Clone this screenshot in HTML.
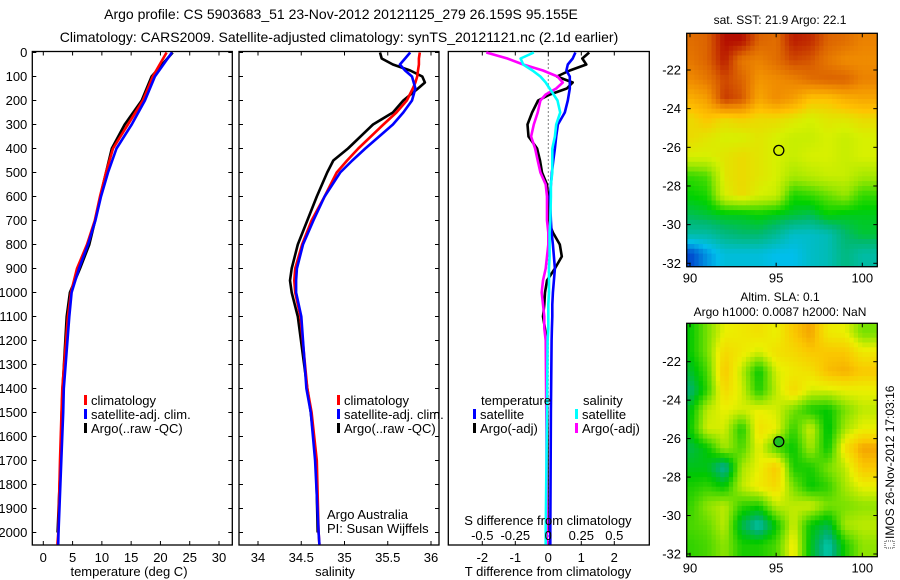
<!DOCTYPE html>
<html><head><meta charset="utf-8"><style>
body{margin:0;background:#fff;}
svg{display:block;font-family:"Liberation Sans",sans-serif;}
</style></head><body>
<svg id="c" width="900" height="580" xmlns="http://www.w3.org/2000/svg">
<text x="341" y="19" font-size="14" text-anchor="middle">Argo profile: CS 5903683_51 23-Nov-2012 20121125_279 26.159S 95.155E</text>
<text x="339" y="42" font-size="14" text-anchor="middle">Climatology: CARS2009. Satellite-adjusted climatology: synTS_20121121.nc (2.1d earlier)</text>
<text x="780" y="24" font-size="12" text-anchor="middle">sat. SST: 21.9 Argo: 22.1</text>
<text x="780" y="301" font-size="12" text-anchor="middle">Altim. SLA: 0.1</text>
<text x="780" y="316" font-size="12" text-anchor="middle">Argo h1000: 0.0087 h2000: NaN</text>
<g transform="translate(894,470) rotate(-90)">
<rect x="-78" y="-9" width="7" height="9" fill="none" stroke="#000" stroke-width="0.8" stroke-dasharray="1,1"/>
<text x="-69" y="0" font-size="12">IMOS 26-Nov-2012 17:03:16</text></g>
</svg>
<script>
// ---- data ----
const depths=[0,25,50,75,100,125,150,175,200,250,300,350,400,450,500,550,600,700,750,800,850,900,950,1000,1050,1100,1200,1300,1400,1500,1600,1700,1800,1900,2000,2050];
const tDepths=[0,100,200,300,400,500,600,700,800,900,1000,1100,1400,1500,1700,2000,2050];
const tempClim=[21.06,18.7,17.0,14.45,11.9,10.7,9.68,8.8,7.46,5.75,4.73,4.2,3.25,3.1,2.85,2.56,2.4];
const tempSat=[21.96,19.06,17.35,15.1,12.5,11.05,9.85,8.9,7.63,6.1,4.84,4.44,3.5,3.4,3.07,2.6,2.55];
const tempArgo=[22.1,18.5,16.8,13.9,11.7,10.7,9.75,8.85,7.85,6.26,4.55,4.0,3.3,3.15,2.95,2.45,null];
const sDepths=[0,25,50,75,100,125,150,200,250,300,400,450,500,600,700,800,900,950,1000,1100,1400,1500,1700,2000,2050];
const salClim=[35.87,35.86,35.86,35.85,35.84,35.82,35.79,35.72,35.6,35.45,35.16,35.03,34.91,34.77,34.62,34.51,34.43,34.42,34.43,34.49,34.57,34.62,34.68,34.70,34.71];
const salSat=[35.76,35.7,35.64,35.7,35.78,35.8,35.82,35.78,35.68,35.56,35.24,35.09,34.95,34.77,34.64,34.52,34.45,34.44,34.44,34.50,34.56,34.61,34.66,34.70,34.71];
const salArgo=[35.41,35.43,35.56,35.76,35.90,35.93,35.85,35.68,35.56,35.33,35.04,34.87,34.80,34.68,34.57,34.46,34.39,34.37,34.39,34.46,34.57,34.61,34.67,34.69,null];
const dDepths=[0,25,50,75,100,125,150,175,200,250,300,350,400,450,500,550,600,700,750,800,850,900,950,1000,1050,1100,1150,1200,1500,2000,2050];
const tDiffSat=[0.82,0.74,0.59,0.55,0.65,0.65,0.65,0.62,0.59,0.5,0.29,0.24,0.2,0.15,0.11,0.08,0.05,0.08,0.1,0.14,0.17,0.2,0.17,0.14,0.12,0.12,0.11,0.1,0.08,0.06,0.06];
const tDiffArgo=[1.24,1.03,1.15,0.65,0.26,0.74,0.56,0.05,-0.31,-0.49,-0.63,-0.6,-0.34,-0.25,-0.19,-0.04,-0.01,-0.01,0.14,0.35,0.41,0.2,-0.04,-0.1,-0.12,-0.16,-0.1,-0.05,-0.03,-0.02,null];
const sDiffArgo=[-0.47,-0.31,-0.19,-0.04,0.07,0.11,0.06,-0.02,-0.06,-0.08,-0.11,-0.13,-0.1,-0.08,-0.06,-0.02,-0.01,-0.01,0,0,-0.01,-0.02,-0.04,-0.05,-0.04,-0.03,-0.03,-0.02,-0.015,-0.01,-0.01];
const sDiffSat=[-0.11,-0.21,-0.19,-0.12,-0.06,-0.02,0.01,0.04,0.07,0.09,0.06,0.05,0.03,0.03,0.03,0.02,0.02,0.015,0.01,0.01,0.01,0.005,0.005,0.005,0.0,0.0,0,-0.005,-0.01,-0.02,-0.02];
const depthTicks=[0,100,200,300,400,500,600,700,800,900,1000,1100,1200,1300,1400,1500,1600,1700,1800,1900,2000];
const tempTicks=[0,5,10,15,20,25,30];
const salTicks=[34,34.5,35,35.5,36];
const tDiffTicks=[-2,-1,0,1,2];
const sDiffTicks=[-0.5,-0.25,0,0.25,0.5];
const latTicks=[-22,-24,-26,-28,-30,-32];
const lonTicks=[90,95,100];
const mapLons=[90,91,92,93,94,95,96,97,98,99,100];
const mapLats=[-20.5,-21.5,-22.5,-23.5,-24.5,-25.5,-26.5,-27.5,-28.5,-29.5,-30.5,-31.5];
const sstGrid=[
[22.9,23.0,23.6,23.6,23.0,22.9,23.5,23.4,23.0,22.9,22.7],
[22.8,23.0,23.5,22.8,22.7,22.9,23.2,23.1,22.8,22.6,22.6],
[22.6,22.8,23.2,23.0,22.5,22.6,22.7,22.9,23.0,23.0,22.7],
[22.2,22.4,23.3,23.1,22.3,22.6,22.4,22.0,22.0,22.2,22.3],
[21.8,22.0,21.8,21.9,21.8,21.8,21.7,21.6,21.7,21.7,21.8],
[21.8,21.7,21.6,21.6,21.7,21.6,21.5,21.5,21.6,21.5,21.6],
[21.6,21.6,21.7,21.8,21.7,21.6,21.5,21.6,21.6,21.5,21.6],
[20.8,20.9,21.7,21.8,21.7,21.6,21.3,21.4,21.5,21.5,21.3],
[20.6,20.7,21.6,21.8,21.6,21.5,20.7,20.8,21.0,21.2,20.8],
[20.3,20.4,20.5,20.5,20.6,20.5,20.4,20.3,20.6,20.5,20.5],
[19.9,19.9,20.1,20.2,20.2,20.0,19.7,19.7,19.8,20.2,20.4],
[18.9,19.3,19.6,19.6,19.6,19.5,19.5,19.7,19.8,20.1,19.9]];
const slaGrid=[
[-0.05,0.00,0.05,0.06,0.07,0.05,0.10,0.13,0.06,0.05,0.00],
[-0.05,0.00,0.08,0.06,0.04,0.07,0.08,0.10,0.10,0.10,0.06],
[-0.07,-0.02,0.10,0.03,-0.05,0.04,0.06,0.07,0.11,0.12,0.10],
[-0.10,-0.03,0.08,0.04,-0.04,0.03,0.08,0.04,0.04,0.05,0.05],
[-0.06,0.03,0.05,0.04,0.05,0.04,0.00,-0.04,-0.05,0.00,0.03],
[-0.05,0.04,0.04,-0.04,0.07,0.05,-0.03,0.04,-0.06,0.02,0.05],
[-0.08,-0.05,0.02,-0.02,0.05,-0.02,-0.05,0.02,-0.05,0.07,0.13],
[-0.06,-0.06,-0.12,0.02,0.05,0.10,-0.04,-0.04,0.00,0.03,0.10],
[-0.04,-0.03,-0.05,0.03,0.06,0.08,0.00,-0.05,-0.03,0.02,0.05],
[-0.03,0.01,0.03,-0.03,-0.04,0.03,0.03,0.04,0.00,0.00,0.01],
[-0.02,-0.01,0.03,-0.08,-0.13,-0.05,0.04,-0.05,-0.08,0.02,0.03],
[-0.03,-0.02,0.01,-0.04,-0.04,-0.02,0.06,-0.06,-0.13,-0.04,0.01]];
const floatLon=95.155, floatLat=-26.159;

// ---- helpers ----
const svg=document.getElementById('c');
const NS='http://www.w3.org/2000/svg';
function mk(tag,at,parent){const e=document.createElementNS(NS,tag);for(const k in at)e.setAttribute(k,at[k]);(parent||svg).appendChild(e);return e;}
function txt(x,y,s,size,anchor,parent,fill){const t=mk('text',{x:x,y:y,'font-size':size,'text-anchor':anchor||'middle',fill:fill||'#000'},parent);t.textContent=s;return t;}
const Y=d=>52.5+d*0.24;
const TOP=51.5,BOT=545;
function lin(v0,p0,v1,p1){return v=>p0+(v-v0)*(p1-p0)/(v1-v0);}
const xT=lin(0,43.3,30,219);
const xS=lin(34,258,36,431);
const xTd=lin(0,548.3,2,614.3);
const xSd=lin(0,548.3,0.5,614.3);

function frame(x0,x1,name){
  const r=mk('rect',{x:x0,y:TOP,width:x1-x0,height:BOT-TOP,fill:'none',stroke:'#000','stroke-width':1.3});
  
  
}
function line(xs,ds,vals,color,name,w){
  let p=[];
  for(let i=0;i<ds.length;i++){if(vals[i]===null||vals[i]===undefined)continue;p.push(xs(vals[i]).toFixed(1)+','+Y(ds[i]).toFixed(1));}
  const e=mk('polyline',{points:p.join(' '),fill:'none',stroke:color,'stroke-width':w||2.6,'stroke-linejoin':'round'});
  
  
}
function depthTicksFor(x0,x1,labels){
  depthTicks.forEach(d=>{
    mk('line',{x1:x0,x2:x0+4,y1:Y(d),y2:Y(d),stroke:'#000'});
    mk('line',{x1:x1,x2:x1-4,y1:Y(d),y2:Y(d),stroke:'#000'});
    if(labels){const t=txt(x0-5,Y(d)+4.5,String(d),13,'end');
      
      }
  });
}
function xTicks(ticks,sc,labelY,top,bottom){
  ticks.forEach(v=>{
    const x=sc(v);
    if(top)mk('line',{x1:x,x2:x,y1:TOP,y2:TOP+4,stroke:'#000'});
    if(bottom)mk('line',{x1:x,x2:x,y1:BOT,y2:BOT-4,stroke:'#000'});
    if(labelY){const t=txt(x,labelY,String(v),13,'middle');
      
      }
  });
}
function legendItem(x,y,color,label,name){
  mk('rect',{x:x,y:y-10,width:3,height:10,fill:color});
  const t=txt(x+7,y,label,13,'start');
  
  
}

// ---- panel 1: temperature ----
frame(32.3,232.3,'temperature-panel');
depthTicksFor(32.3,232.3,true);
xTicks(tempTicks,xT,562,true,true);
line(xT,tDepths,tempArgo,'#000','temp-argo-line');
line(xT,tDepths,tempClim,'#f00','temp-climatology-line');
line(xT,tDepths,tempSat,'#00f','temp-satellite-line');
legendItem(84,405,'#f00','climatology','legend-climatology');
legendItem(84,419,'#00f','satellite-adj. clim.','legend-satellite-adj');
legendItem(84,433,'#000','Argo(..raw -QC)','legend-argo');
let t1=txt(129,576,'temperature (deg C)',13);



// ---- panel 2: salinity ----
frame(239,439,'salinity-panel');
depthTicksFor(239,439,false);
xTicks(salTicks,xS,562,true,true);
line(xS,sDepths,salArgo,'#000','sal-argo-line');
line(xS,sDepths,salClim,'#f00','sal-climatology-line');
line(xS,sDepths,salSat,'#00f','sal-satellite-line');
legendItem(337,405,'#f00','climatology','legend-climatology-2');
legendItem(337,419,'#00f','satellite-adj. clim.','legend-satellite-adj-2');
legendItem(337,433,'#000','Argo(..raw -QC)','legend-argo-2');
let t2=txt(335,576,'salinity',13);


let c1=txt(327,519,'Argo Australia',13,'start');


let c2=txt(327,533,'PI: Susan Wijffels',13,'start');



// ---- panel 3: differences ----
frame(448.3,649.3,'difference-panel');
xTicks(sDiffTicks,xSd,null,true,false);
xTicks(tDiffTicks,xTd,562,false,true);
mk('line',{x1:xTd(0),x2:xTd(0),y1:TOP,y2:BOT,stroke:'#000','stroke-dasharray':'1,3'});
line(xTd,dDepths,tDiffArgo,'#000','tdiff-argo-line');
line(xTd,dDepths,tDiffSat,'#00f','tdiff-satellite-line');
line(xSd,dDepths,sDiffArgo,'#f0f','sdiff-argo-line');
line(xSd,dDepths,sDiffSat,'#0ff','sdiff-satellite-line');
let lt=txt(481,405,'temperature',13,'start');
let ls=txt(583,405,'salinity',13,'start');
legendItem(473,419,'#00f','satellite','legend-t-satellite');
legendItem(473,433,'#000','Argo(-adj)','legend-t-argo');
legendItem(575,419,'#0ff','satellite','legend-s-satellite');
legendItem(575,433,'#f0f','Argo(-adj)','legend-s-argo');
let st=txt(548,525,'S difference from climatology',13);
sDiffTicks.forEach(v=>{const t=txt(xSd(v),540,String(v),13);
  
  });
let tt=txt(548,576,'T difference from climatology',13);

// ---- maps ----
function cmap(stops,v){
  if(v<=stops[0][0])return 'rgb('+stops[0][1].join(',')+')';
  for(let i=1;i<stops.length;i++){if(v<=stops[i][0]){const a=stops[i-1],b=stops[i],f=(v-a[0])/(b[0]-a[0]);
    return 'rgb('+a[1].map((c,k)=>Math.round(c+(b[1][k]-c)*f)).join(',')+')';}}
  return 'rgb('+stops[stops.length-1][1].join(',')+')';
}
const sstStops=[[18.8,[0,50,200]],[19.5,[0,190,235]],[20.2,[0,185,110]],[20.6,[0,210,0]],[21.2,[150,230,0]],[21.6,[215,240,0]],[22.0,[255,195,0]],[22.6,[240,140,0]],[23.0,[220,100,0]],[23.6,[180,15,0]]];
const slaStops=[[-0.15,[0,220,210]],[-0.1,[0,175,120]],[-0.05,[0,200,0]],[0,[120,225,0]],[0.05,[235,240,0]],[0.1,[250,200,0]],[0.15,[240,140,0]]];
function sample(grid,fr,fc){
  const R=grid.length-1,C=grid[0].length-1;
  fr=Math.max(0,Math.min(R,fr));fc=Math.max(0,Math.min(C,fc));
  const r0=Math.floor(fr),c0=Math.floor(fc),r1=Math.min(R,r0+1),c1=Math.min(C,c0+1),a=fr-r0,b=fc-c0;
  return grid[r0][c0]*(1-a)*(1-b)+grid[r0][c1]*(1-a)*b+grid[r1][c0]*a*(1-b)+grid[r1][c1]*a*b;
}
function drawMap(top,lat22y,lat32y,grid,stops,name,fillCircle){
  const x0=686.7,x1=877.3,bottom=top+233.4;
  const xL=lin(90,690,100,862.3), yL=lin(-22,lat22y,-32,lat32y);
  const g=mk('g',{});
  
  
  const SUB=4, step=1/SUB;
  const lonMin=mapLons[0]-0.5, lonMax=mapLons[mapLons.length-1]+1;
  const latMax=mapLats[0]+0.5, latMin=mapLats[mapLats.length-1]-0.5;
  for(let lat=latMax; lat>latMin-1e-6; lat-=step){
    for(let lon=lonMin; lon<lonMax-1e-6; lon+=step){
      const cLon=lon+step/2, cLat=lat-step/2;
      const fc=cLon-mapLons[0], fr=(mapLats[0]-cLat);
      const v=sample(grid,fr,fc);
      let a=Math.max(x0,xL(lon)), b=Math.min(x1,xL(lon+step));
      let ya=Math.max(top,yL(lat)), yb=Math.min(bottom,yL(lat-step));
      if(b<=a||yb<=ya)continue;
      const cell=mk('rect',{x:a.toFixed(1),y:ya.toFixed(1),width:(b-a+0.4).toFixed(1),height:(yb-ya+0.4).toFixed(1),fill:cmap(stops,v)},g);
      
      
    }
  }
  mk('rect',{x:x0,y:top,width:x1-x0,height:bottom-top,fill:'none',stroke:'#000','stroke-width':1.3});
  latTicks.forEach(l=>{const y=yL(l);
    mk('line',{x1:x0,x2:x0+4,y1:y,y2:y,stroke:'#000'});mk('line',{x1:x1,x2:x1-4,y1:y,y2:y,stroke:'#000'});
    const t=txt(681,y+4.5,String(l),13,'end');
    
    });
  lonTicks.forEach(l=>{const x=xL(l);
    mk('line',{x1:x,x2:x,y1:top,y2:top+4,stroke:'#000'});mk('line',{x1:x,x2:x,y1:bottom,y2:bottom-4,stroke:'#000'});
    const t=txt(x,bottom+16,String(l),13);
    
    });
  const ci=mk('circle',{cx:xL(floatLon),cy:yL(floatLat),r:5,fill:fillCircle||'none',stroke:'#000','stroke-width':1.3});
  
  
}
drawMap(33.3,70,263.3,sstGrid,sstStops,'sst-map');
drawMap(323.3,361.7,554,slaGrid,slaStops,'sla-map','#20c020');
</script>
</body></html>
